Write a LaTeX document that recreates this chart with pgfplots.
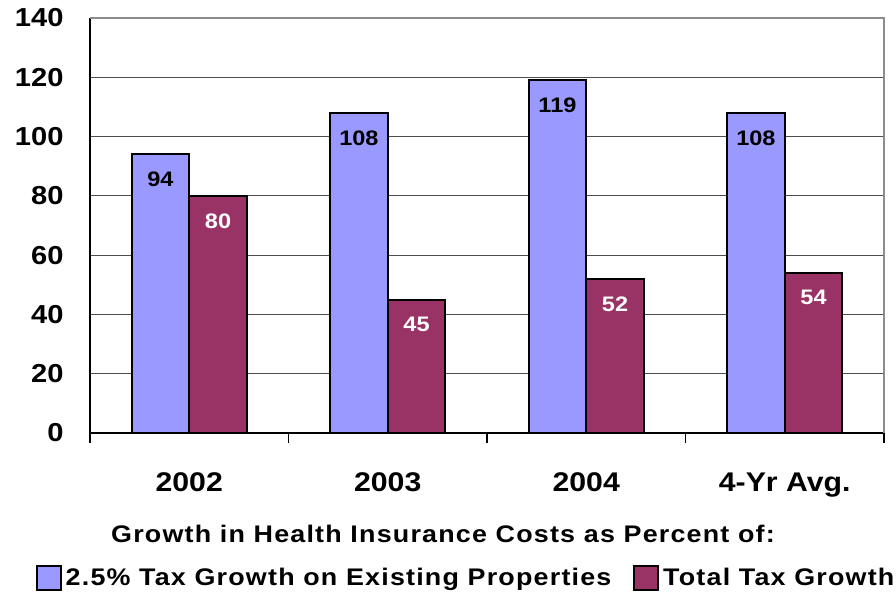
\documentclass[border=0pt]{standalone}
\usepackage{pgfplots}
\pgfplotsset{compat=1.18}
\usepackage{fontspec}
\setmainfont{Liberation Sans}[FakeStretch=1.12]
\newfontfamily\spaced{Liberation Sans}[FakeStretch=1.12,LetterSpace=5]
\definecolor{barblue}{RGB}{153,153,255}
\definecolor{barred}{RGB}{153,51,102}
\begin{document}
\begin{tikzpicture}
\path[use as bounding box] (-45pt,-80.5pt) rectangle (403pt,216.5pt);
\begin{axis}[
  at={(0,0)}, anchor=south west,
  scale only axis, width=397pt, height=207.5pt,
  clip=false,
  xmin=-0.5, xmax=3.5, ymin=0, ymax=140,
  ytick={0,20,...,140},
  xtick={0,1,2,3},
  xticklabels={2002,2003,2004,4-Yr Avg.},
  minor xtick={-0.5,0.5,1.5,2.5,3.5},
  major tick length=0pt, minor tick length=5pt,
  tick align=outside,
  axis lines*=left,
  axis line style={black, line width=0.6pt},
  every minor tick/.append style={black, line width=0.6pt},
  ymajorgrids, grid style={black!70, line width=0.5pt},
  /pgf/number format/assume math mode=true,
  yticklabel style={font=\bfseries\fontsize{13}{15}\selectfont, xshift=-9.7pt},
  xticklabel style={font=\bfseries\fontsize{13.5}{16}\selectfont, yshift=-16.5pt},
  nodes near coords, nodes near coords align=below,
  every node near coord/.append style={font=\bfseries\fontsize{10.5}{12}\selectfont, yshift=-5pt},
  legend columns=2,
  legend style={draw=none, at={(0.475,-0.349)}, anchor=center,
    font=\spaced\bfseries\fontsize{12}{14}\selectfont,
    /tikz/every even column/.append style={column sep=9pt}},
  legend image code/.code={\draw[#1] (0pt,-6pt) rectangle (12pt,6pt);},
]
\addplot[ybar, fill=barblue, draw=black, line width=0.9pt, bar width=0.29, bar shift=-0.145,
  every node near coord/.append style={black, xshift=-14.4pt}]
  coordinates {(0,94) (1,108) (2,119) (3,108)};
\addlegendentry{2.5\% Tax Growth on Existing Properties}
\addplot[ybar, fill=barred, draw=black, line width=0.9pt, bar width=0.29, bar shift=0.145,
  every node near coord/.append style={white, xshift=14.4pt}]
  coordinates {(0,80) (1,45) (2,52) (3,54)};
\addlegendentry{Total Tax Growth}
\draw[black!45, line width=0.6pt] (rel axis cs:0,1) -- (rel axis cs:1,1) -- (rel axis cs:1,0);
\node[font=\spaced\bfseries\fontsize{12}{14}\selectfont] at (axis description cs:0.4446,-0.2434)
  {Growth in Health Insurance Costs as Percent of:};
\end{axis}
\end{tikzpicture}
\end{document}
